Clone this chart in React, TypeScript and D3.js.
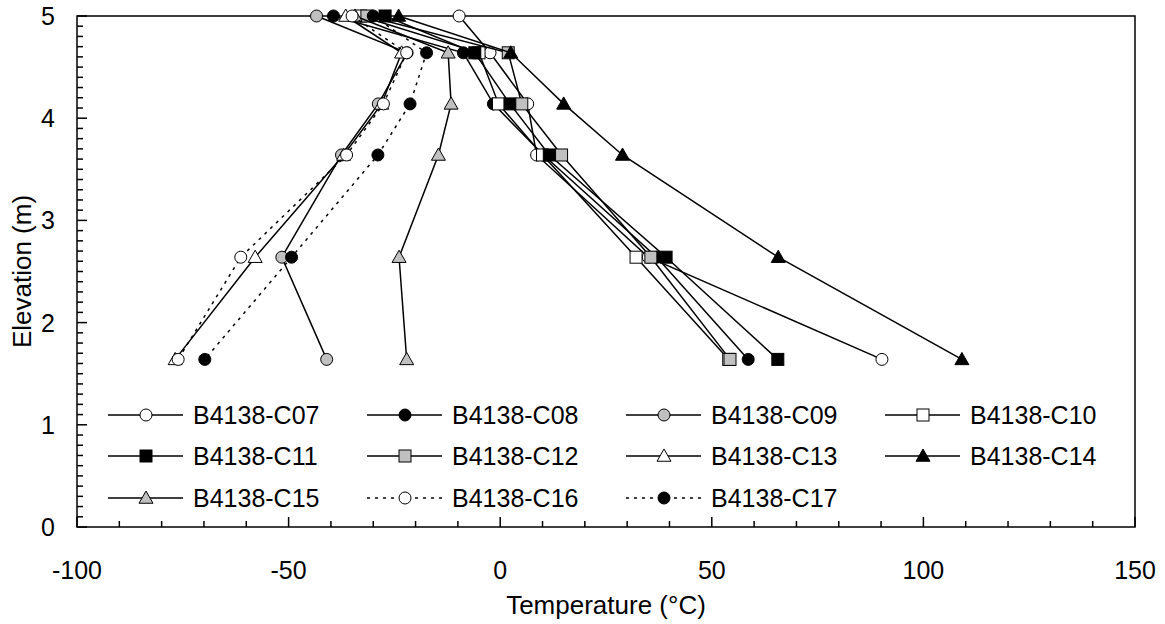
import React, { useEffect, useRef } from "react";
import * as d3 from "d3";

const elevations = [5.0, 4.64, 4.14, 3.64, 2.64, 1.64];
const seriesNames = [
  "B4138-C07", "B4138-C08", "B4138-C09", "B4138-C10", "B4138-C11", "B4138-C12",
  "B4138-C13", "B4138-C14", "B4138-C15", "B4138-C16", "B4138-C17",
];
const c07 = [-9.7, -2.4, 6.5, 8.6, 35, 90.2];
const c08 = [-39.4, -8.7, -1.6, 10.2, 37, 58.6];
const c09 = [-43.4, -22, -28.8, -37.5, -51.6, -41.0];
const c10 = [-33, -5, -0.4, 10, 32.1, 54];
const c11 = [-27.2, -6.0, 2.3, 11.6, 39.2, 65.6];
const c12 = [-31.5, 1.9, 5.1, 14.5, 35.6, 54.3];
const c13 = [-36.5, -23.3, -28, -37, -57.9, -76.8];
const c14 = [-24, 2.5, 15.0, 28.9, 65.7, 109.1];
const c15 = [-34.3, -12.3, -11.6, -14.6, -23.9, -22.1];
const c16 = [-35, -22.1, -27.6, -36.3, -61.3, -76.1];
const c17 = [-30, -17.4, -21.3, -28.9, -49.3, -69.8];
const seriesValues = [c07, c08, c09, c10, c11, c12, c13, c14, c15, c16, c17];
const markerShapes = ["circle", "circle", "circle", "square", "square", "square", "triangle", "triangle", "triangle", "circle", "circle"];
const markerFills = ["#ffffff", "#000000", "#c0c0c0", "#ffffff", "#000000", "#c0c0c0", "#ffffff", "#000000", "#c0c0c0", "#ffffff", "#000000"];
const dashedSeries = [false, false, false, false, false, false, false, false, false, true, true];

const xTicks = [-100, -50, 0, 50, 100, 150];
const yTicks = [0, 1, 2, 3, 4, 5];

const W = 1165, H = 624;
const M = { left: 77, right: 1135, top: 16, bottom: 527 };
const FONT = "'Liberation Sans', Arial, sans-serif";
const FS = 25;

export default function App() {
  const ref = useRef<SVGSVGElement>(null);
  useEffect(() => {
    const svg = d3.select(ref.current);
    svg.selectAll("*").remove();
    const x = d3.scaleLinear().domain([-100, 150]).range([M.left, M.right]);
    const y = d3.scaleLinear().domain([0, 5]).range([M.bottom, M.top]);

    const drawMarker = (g: any, shape: string, fill: string, cx: number, cy: number) => {
      if (shape === "circle") {
        g.append("circle").attr("cx", cx).attr("cy", cy).attr("r", 6)
          .attr("fill", fill).attr("stroke", "#000").attr("stroke-width", 1);
      } else if (shape === "square") {
        g.append("rect").attr("x", cx - 6).attr("y", cy - 6).attr("width", 12).attr("height", 12)
          .attr("fill", fill).attr("stroke", "#000").attr("stroke-width", 1);
      } else {
        const s = 7;
        g.append("path")
          .attr("d", `M${cx},${cy - s}L${cx + s},${cy + s * 0.75}L${cx - s},${cy + s * 0.75}Z`)
          .attr("fill", fill).attr("stroke", "#000").attr("stroke-width", 1);
      }
    };

    svg.append("rect").attr("x", M.left).attr("y", M.top)
      .attr("width", M.right - M.left).attr("height", M.bottom - M.top)
      .attr("fill", "none").attr("stroke", "#000").attr("stroke-width", 1.5);

    const axG = svg.append("g");
    d3.range(-100, 151, 10).forEach((v) => {
      const major = v % 50 === 0;
      axG.append("line").attr("x1", x(v)).attr("x2", x(v))
        .attr("y1", M.bottom).attr("y2", M.bottom - (major ? 10 : 6))
        .attr("stroke", "#000").attr("stroke-width", 1.5);
    });
    xTicks.forEach((v) => {
      axG.append("text").attr("x", x(v)).attr("y", M.bottom + 52)
        .attr("text-anchor", "middle").attr("font-family", FONT).attr("font-size", FS)
        .text(String(v));
    });
    d3.range(0, 50.5, 1).forEach((i) => {
      const v = i / 10;
      const major = i % 10 === 0;
      axG.append("line").attr("x1", M.left).attr("x2", M.left + (major ? 10 : 6))
        .attr("y1", y(v)).attr("y2", y(v))
        .attr("stroke", "#000").attr("stroke-width", 1.5);
    });
    yTicks.forEach((v) => {
      axG.append("text").attr("x", M.left - 22).attr("y", y(v) + 9)
        .attr("text-anchor", "end").attr("font-family", FONT).attr("font-size", FS)
        .text(String(v));
    });
    svg.append("text").attr("x", (M.left + M.right) / 2).attr("y", 614)
      .attr("text-anchor", "middle").attr("font-family", FONT).attr("font-size", 26)
      .text("Temperature (°C)");
    svg.append("text").attr("transform", `translate(31,${(M.top + M.bottom) / 2}) rotate(-90)`)
      .attr("text-anchor", "middle").attr("font-family", FONT).attr("font-size", 26)
      .text("Elevation (m)");

    const line = d3.line<number>().x((d) => x(d)).y((_, i) => y(elevations[i]));
    seriesValues.forEach((vals, si) => {
      const g = svg.append("g");
      g.append("path").attr("d", line(vals) as string).attr("fill", "none")
        .attr("stroke", "#000").attr("stroke-width", 1.5)
        .attr("stroke-dasharray", dashedSeries[si] ? "3,5" : null);
      vals.forEach((v, i) => drawMarker(g, markerShapes[si], markerFills[si], x(v), y(elevations[i])));
    });

    const colX = [193, 452, 711, 970];
    const rowY = [415, 456, 498];
    seriesNames.forEach((name, si) => {
      const cx = colX[si % 4];
      const cy = rowY[Math.floor(si / 4)];
      const g = svg.append("g");
      g.append("line").attr("x1", cx - 85).attr("x2", cx - 10).attr("y1", cy).attr("y2", cy)
        .attr("stroke", "#000").attr("stroke-width", 1.5)
        .attr("stroke-dasharray", dashedSeries[si] ? "3,5" : null);
      drawMarker(g, markerShapes[si], markerFills[si], cx - 47, cy);
      g.append("text").attr("x", cx).attr("y", cy + 9).attr("font-family", FONT)
        .attr("font-size", FS).text(name);
    });
  }, []);
  return (
    <svg ref={ref} width={W} height={H}
      style={{ position: "absolute", left: 0, top: 0, background: "#fff" }} />
  );
}
